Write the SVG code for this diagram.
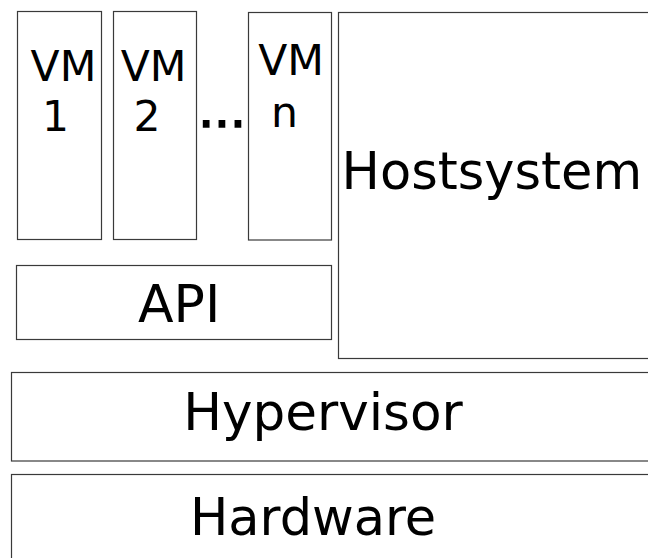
<svg xmlns="http://www.w3.org/2000/svg" width="648" height="558" viewBox="0 0 648 558">
  <style>
    .box { fill: #ffffff; stroke: #3a3a3a; stroke-width: 1.2; }
    .lbl { font-family: "DejaVu Sans", "Liberation Sans", sans-serif; fill: #000000; }
    .vm { font-size: 42.5px; }
    .big { font-size: 51px; }
    .dots { font-size: 50px; stroke: #000000; stroke-width: 1.6; }
  </style>
  <rect width="648" height="558" fill="#ffffff"/>

  <g id="vm1">
    <rect class="box" x="17.5" y="11.5" width="84" height="228"/>
    <text class="lbl vm" x="30.6" y="81">VM</text>
    <text class="lbl vm" x="42" y="131">1</text>
  </g>

  <g id="vm2">
    <rect class="box" x="113.5" y="11.5" width="83" height="228"/>
    <text class="lbl vm" x="120.7" y="81">VM</text>
    <text class="lbl vm" x="133.5" y="131">2</text>
  </g>

  <g id="ellipsis">
    <text class="lbl dots" x="198.2" y="126.7">...</text>
  </g>

  <g id="vmn">
    <rect class="box" x="248.5" y="12.5" width="83" height="227.5"/>
    <text class="lbl vm" x="258.2" y="75">VM</text>
    <text class="lbl vm" x="271" y="126.7">n</text>
  </g>

  <g id="hostsystem">
    <rect class="box" x="338.5" y="12.5" width="320" height="346"/>
    <text class="lbl big" x="341.6" y="189.3">Hostsystem</text>
  </g>

  <g id="api">
    <rect class="box" x="16.5" y="265.5" width="315" height="74"/>
    <text class="lbl" font-size="52" x="138" y="321.7">API</text>
  </g>

  <g id="hypervisor">
    <rect class="box" x="11.5" y="372.5" width="650" height="88.5"/>
    <text class="lbl" font-size="51.6" x="183.2" y="430">Hypervisor</text>
  </g>

  <g id="hardware">
    <rect class="box" x="11.5" y="474.5" width="650" height="100"/>
    <text class="lbl big" x="190" y="535">Hardware</text>
  </g>

  <g id="connectors"/>
</svg>
